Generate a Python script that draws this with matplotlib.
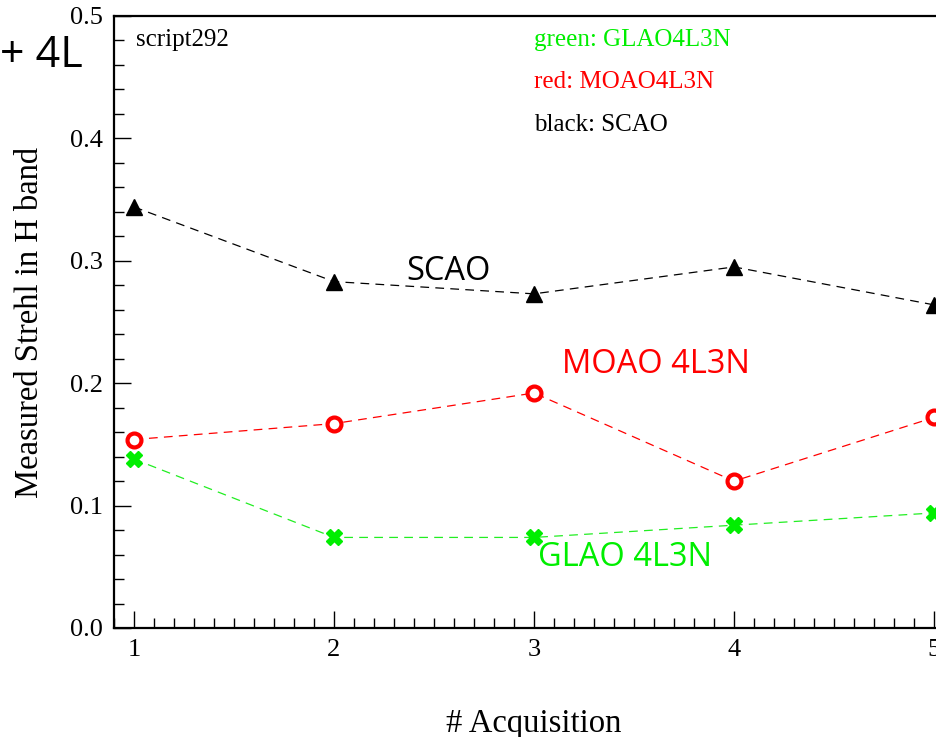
import numpy as np
import matplotlib
matplotlib.use('Agg')
import matplotlib.pyplot as plt
from matplotlib.ticker import MultipleLocator, FormatStrFormatter

plt.rcParams.update({'font.family': 'Liberation Serif'})

acq = [1, 2, 3, 4, 5]
scao = [0.344, 0.283, 0.273, 0.295, 0.264]
moao = [0.154, 0.167, 0.192, 0.120, 0.172]
glao = [0.138, 0.074, 0.074, 0.084, 0.094]

fig = plt.figure(figsize=(9.37, 7.37), dpi=100)
W, H = 937.0, 737.0
ax = fig.add_axes([114 / W, (H - 628) / H, (954 - 114) / W, 612 / H])

ax.plot(acq, scao, '--', color='black', lw=0.9, dashes=(7, 5),
        marker='^', ms=11, mfc='black', mec='black')
ax.plot(acq, moao, '--', color='red', lw=0.9, dashes=(7, 5),
        marker='o', ms=10, mfc='white', mec='red', mew=3)
ax.plot(acq, glao, '--', color='#22ee22', lw=0.9, dashes=(7, 5),
        marker='X', ms=11, mfc='#00ee00', mec='#00ee00')

ax.set_xlim(0.9, 5.1)
ax.set_ylim(0.0, 0.5)
ax.xaxis.set_major_locator(MultipleLocator(1))
ax.xaxis.set_minor_locator(MultipleLocator(0.1))
ax.yaxis.set_major_locator(MultipleLocator(0.1))
ax.yaxis.set_minor_locator(MultipleLocator(0.02))
ax.yaxis.set_major_formatter(FormatStrFormatter('%.1f'))
ax.tick_params(which='major', direction='in', length=12, width=1.0, labelsize=19, pad=8)
ax.tick_params(which='minor', direction='in', length=7, width=1.0)
ax.tick_params(top=False, right=False, which='both')
for s in ['left', 'bottom', 'top']:
    ax.spines[s].set_linewidth(1.6)
ax.spines['right'].set_visible(False)

ax.set_xlabel('# Acquisition', fontsize=23.5, labelpad=34)
ax.set_ylabel('Measured Strehl in H band', fontsize=23.5, labelpad=18)

ax.text(0.026, 0.96, 'script292', transform=ax.transAxes, fontsize=18, va='center')
ax.text(0.5, 0.96, 'green: GLAO4L3N', transform=ax.transAxes, fontsize=18, color='#00ee00', va='center')
ax.text(0.5, 0.892, 'red: MOAO4L3N', transform=ax.transAxes, fontsize=18, color='red', va='center')
ax.text(0.5, 0.822, 'black: SCAO', transform=ax.transAxes, fontsize=18, color='black', va='center')

sans = ['Open Sans', 'DejaVu Sans']
ax.text(2.36, 0.291, 'SCAO', fontsize=23.5, family=sans, color='black', va='center')
ax.text(3.14, 0.215, 'MOAO 4L3N', fontsize=23.5, family=sans, color='red', va='center')
ax.text(3.02, 0.058, 'GLAO 4L3N', fontsize=23.5, family=sans, color='#00ee00', va='center')

fig.text(0.0, 0.925, '+ 4L', fontsize=31, family=sans, color='black', va='center')

fig.savefig('out.png', dpi=100)
